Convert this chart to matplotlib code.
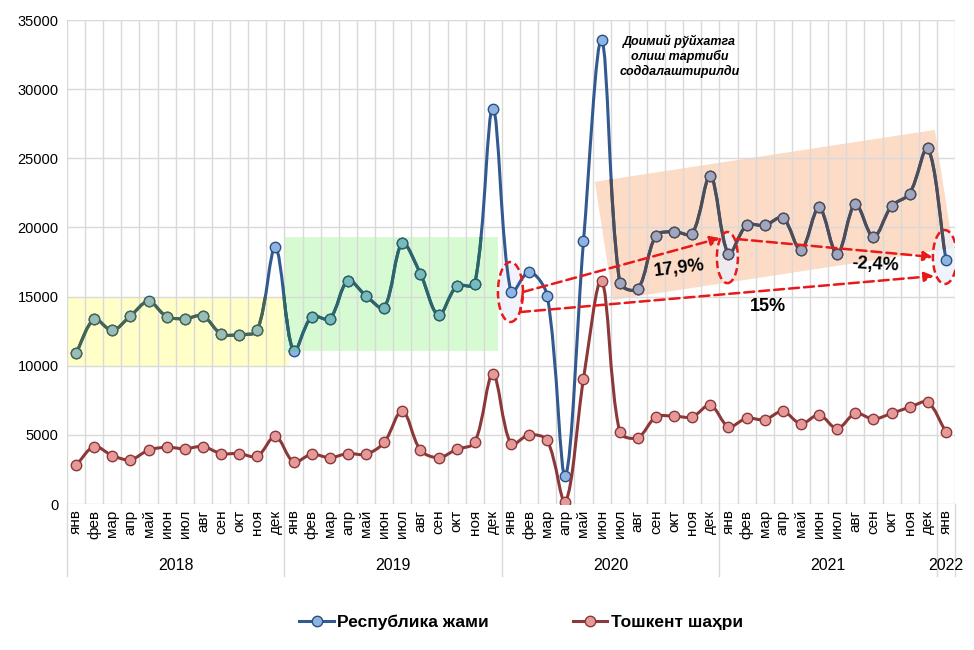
import matplotlib
matplotlib.use("Agg")
import matplotlib.pyplot as plt
import matplotlib.transforms as mtransforms
from matplotlib.path import Path
from matplotlib.patches import PathPatch, Rectangle, Polygon, Ellipse
from matplotlib.lines import Line2D
import numpy as np

plt.rcParams['font.family'] = ['Liberation Sans', 'DejaVu Sans']

# month labels Jan 2018 .. Jan 2022
month_names = ["янв", "фев", "мар", "апр", "май", "июн", "июл", "авг", "сен", "окт", "ноя", "дек"]
years = ["2018", "2019", "2020", "2021", "2022"]
labels = month_names * 4 + ["янв"]

republic = [10900, 13350, 12550, 13600, 14650, 13550, 13400, 13600, 12300, 12250, 12550, 18550,
            11050, 13550, 13400, 16150, 15050, 14200, 18850, 16650, 13650, 15750, 15900, 28600,
            15300, 16800, 15050, 2050, 19000, 33550, 16000, 15550, 19400, 19700, 19550, 23750,
            18100, 20150, 20150, 20700, 18350, 21450, 18050, 21700, 19300, 21550, 22450, 25750,
            17650]
tashkent = [2800, 4150, 3500, 3200, 3900, 4100, 4000, 4150, 3650, 3650, 3450, 4900,
            3050, 3600, 3350, 3650, 3600, 4450, 6750, 3900, 3350, 3950, 4450, 9400,
            4350, 5000, 4600, 150, 9050, 16150, 5200, 4800, 6300, 6350, 6300, 7150,
            5600, 6200, 6100, 6700, 5800, 6450, 5450, 6550, 6150, 6550, 7000, 7350,
            5200]

x = np.arange(len(labels))

BLUE_LINE = (0.20, 0.35, 0.57)
BLUE_FACE = (0.55, 0.71, 0.89)
BLUE_EDGE = (0.18, 0.30, 0.50)
RED_LINE = (0.55, 0.22, 0.22)
RED_FACE = (0.90, 0.60, 0.60)
RED_EDGE = (0.55, 0.22, 0.22)
ARROW_RED = "#E8191A"

YELLOW = (1.0, 1.0, 0.78)
GREEN = (0.84, 0.98, 0.82)
ORANGE = (0.99, 0.86, 0.78)

# how the blue series looks under each tinted box (line, face, edge)
IN_YELLOW = ((0.27, 0.40, 0.32), (0.60, 0.74, 0.72), (0.27, 0.40, 0.32))
IN_GREEN = ((0.17, 0.40, 0.42), (0.47, 0.73, 0.74), (0.17, 0.38, 0.40))
IN_ORANGE = ((0.30, 0.30, 0.34), (0.63, 0.65, 0.75), (0.30, 0.30, 0.34))


def smooth_path(ax, xs, ys, t=1 / 3):
    # excel-like smoothed line: bezier controls in screen space,
    # tangent split in proportion to neighbouring segment lengths
    pts = ax.transData.transform(np.column_stack([xs, ys]).astype(float))
    n = len(pts)
    seg = np.hypot(*(pts[1:] - pts[:-1]).T)
    verts = [pts[0]]
    codes = [Path.MOVETO]
    for i in range(n - 1):
        p0 = pts[max(i - 1, 0)]
        p1, p2 = pts[i], pts[i + 1]
        p3 = pts[min(i + 2, n - 1)]
        d_prev = seg[i - 1] if i > 0 else 0.0
        d_next = seg[i + 1] if i + 2 < n else 0.0
        c1 = p1 + (p2 - p0) * t * seg[i] / (d_prev + seg[i])
        c2 = p2 - (p3 - p1) * t * seg[i] / (seg[i] + d_next)
        verts += [c1, c2, p2]
        codes += [Path.CURVE4] * 3
    verts = ax.transData.inverted().transform(np.array(verts))
    return Path(verts, codes)


def draw_series(ax, ys, line_c, face_c, edge_c, z, clip=None):
    patch = PathPatch(smooth_path(ax, x, ys), facecolor="none", edgecolor=line_c,
                      lw=2.2, zorder=z, capstyle="round", joinstyle="round")
    ax.add_patch(patch)
    mk, = ax.plot(x, ys, "o", ms=7.5, mfc=face_c, mec=edge_c, mew=1.0, zorder=z + 0.05)
    if clip is not None:
        patch.set_clip_path(clip)
        mk.set_clip_path(clip)


fig = plt.figure(figsize=(9.74, 6.5), dpi=100)
ax = fig.add_axes([67 / 974, 1 - 504 / 650, 888 / 974, 484 / 650])
ax.set_xlim(-0.5, len(labels) - 0.5)
ax.set_ylim(0, 35000)

# grid
ax.set_axisbelow(True)
ax.set_yticks(np.arange(0, 35001, 5000))
ax.set_xticks(x)
ax.set_xticks(np.arange(-0.5, len(labels), 1.0), minor=True)
ax.grid(True, which="major", axis="y", color="#D9D9D9", lw=1.0)
ax.grid(True, which="minor", axis="x", color="#D9D9D9", lw=1.0)
for s in ax.spines.values():
    s.set_visible(False)
ax.tick_params(axis="both", which="both", length=0)
ax.tick_params(axis="y", labelsize=10.5, pad=6)
ax.set_xticklabels(labels, rotation=90, fontsize=11, va="top")
ax.tick_params(axis="x", pad=4)

# highlighted periods
box_yellow = Rectangle((-0.5, 10000), 12.25, 5000, facecolor=YELLOW, edgecolor="none", zorder=0.4)
box_green = Rectangle((11.5, 11100), 11.8, 8200, facecolor=GREEN, edgecolor="none", zorder=0.4)
box_orange = Polygon([(28.63, 23300), (47.39, 27050), (48.39, 18500), (29.63, 14750)],
                     closed=True, facecolor=ORANGE, edgecolor="none", zorder=0.4)
for b in (box_yellow, box_green, box_orange):
    ax.add_patch(b)

# dashed ellipses: light fill under the lines, dashed outline on top
ellipses = [(23.97, 15330, 1.38, 4340), (35.94, 17820, 1.16, 3700), (47.94, 17860, 1.32, 3900)]
for cx, cy, w, h in ellipses:
    ax.add_patch(Ellipse((cx, cy), w, h, facecolor=(0.92, 0.94, 0.98, 0.75), edgecolor="none", zorder=1))
    ax.add_patch(Ellipse((cx, cy), w, h, facecolor="none", edgecolor=ARROW_RED,
                         lw=1.8, ls=(0, (3, 1.6)), zorder=4))

# series
draw_series(ax, republic, BLUE_LINE, BLUE_FACE, BLUE_EDGE, 2)
for z, (b, cols) in enumerate([(box_yellow, IN_YELLOW), (box_green, IN_GREEN), (box_orange, IN_ORANGE)]):
    draw_series(ax, republic, *cols, 2.2 + 0.1 * z, clip=b)
draw_series(ax, tashkent, RED_LINE, RED_FACE, RED_EDGE, 3)

# dashed arrows
aprops = dict(arrowstyle="-|>", color=ARROW_RED, lw=1.8, ls=(0, (4, 2)),
              mutation_scale=14, shrinkA=0, shrinkB=0)
ax.annotate("", xy=(35.53, 19230), xytext=(24.66, 15330), arrowprops=aprops, zorder=4.5)
ax.annotate("", xy=(47.28, 17860), xytext=(36.47, 19160), arrowprops=aprops, zorder=4.5)
ax.plot([24.66, 24.5], [15330, 13880], color=ARROW_RED, lw=1.8, ls=(0, (4, 2)), zorder=4.5)
ax.annotate("", xy=(47.34, 16490), xytext=(24.5, 13880), arrowprops=aprops, zorder=4.5)

ax.text(33.27, 17000, "17,9%", fontsize=13, fontweight="bold", ha="center", va="center",
        rotation=7, zorder=5)
ax.text(44.08, 17280, "-2,4%", fontsize=13, fontweight="bold", ha="center", va="center",
        rotation=-3, zorder=5)
ax.text(38.18, 14250, "15%", fontsize=13, fontweight="bold", ha="center", va="center", zorder=5)

ax.text(33.3, 32400, "Доимий рўйхатга\nолиш тартиби\nсоддалаштирилди", fontsize=9,
        fontweight="bold", fontstyle="italic", ha="center", va="center", linespacing=1.2, zorder=5)

# year grouping under month labels
trans = mtransforms.blended_transform_factory(ax.transData, ax.transAxes)
for sep in [-0.5, 11.5, 23.5, 35.5, 47.5, 48.5]:
    ax.plot([sep, sep], [0, -0.149], transform=trans, color="#D9D9D9", lw=1.0, clip_on=False)
for i, yr in enumerate(years):
    start = i * 12
    end = min(start + 11, len(labels) - 1)
    ax.text((start + end) / 2, -0.128, yr, transform=trans, ha="center", va="center", fontsize=11.5)

# legend
handles = [
    Line2D([], [], color=BLUE_LINE, lw=2.2, marker="o", ms=7.5, mfc=BLUE_FACE, mec=BLUE_EDGE),
    Line2D([], [], color=RED_LINE, lw=2.2, marker="o", ms=7.5, mfc=RED_FACE, mec=RED_EDGE),
]
leg = fig.legend(handles, ["Республика жами", "Тошкент шаҳри"], loc="center",
                 bbox_to_anchor=(0.535, 1 - 622 / 650), ncol=2, frameon=False,
                 prop=dict(size=12.5, weight="bold"), handlelength=2.0, handletextpad=0.2,
                 columnspacing=4.8)

fig.savefig("out.png", dpi=100)
